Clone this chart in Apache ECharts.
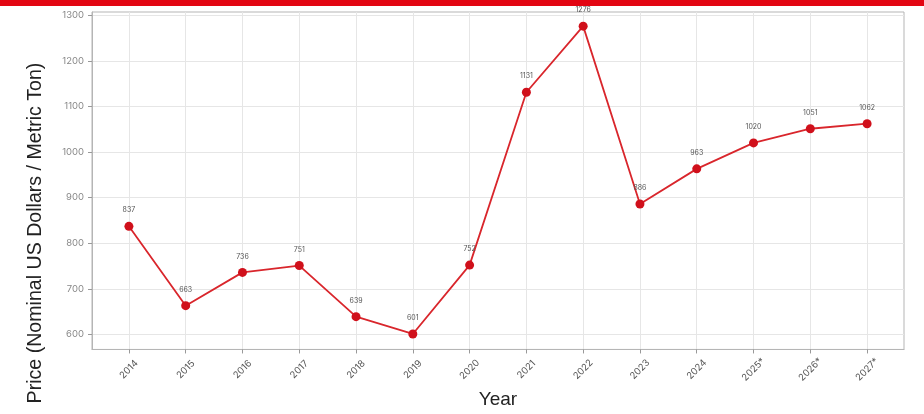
<!DOCTYPE html>
<html><head><meta charset="utf-8">
<script src="https://cdn.jsdelivr.net/npm/echarts@6/dist/echarts.min.js"></script>
<style>html,body{margin:0;padding:0;background:#fff}#c{width:924px;height:414px}</style>
</head><body><div id="c"></div>
<script>
const years = ['2014','2015','2016','2017','2018','2019','2020','2021','2022','2023','2024','2025*','2026*','2027*'];
const prices = [837, 663, 736, 751, 639, 601, 752, 1131, 1276, 886, 963, 1020, 1051, 1062];
const yTicks = [600, 700, 800, 900, 1000, 1100, 1200, 1300];
const xTitle = 'Year';
const yTitle = 'Price (Nominal US Dollars / Metric Ton)';

const xIdx = years.map((_, i) => i);
const chart = echarts.init(document.getElementById('c'), null, {renderer: 'canvas'});
chart.setOption({
  animation: false,
  backgroundColor: '#fff',
  graphic: [
    {type: 'rect', left: 0, top: 0, shape: {width: 924, height: 6}, style: {fill: '#e30613'}},
    {type: 'text', x: 36, y: 233, rotation: Math.PI / 2, style: {text: yTitle, font: '19.6px "Liberation Sans", Arial, sans-serif', fill: '#222', align: 'center', verticalAlign: 'middle'}}
  ],
  grid: {left: 92, right: 20, top: 12, bottom: 60, show: true, borderColor: '#b5b5b5', borderWidth: 1, containLabel: false},
  xAxis: {
    type: 'value', min: -0.65, max: 13.65,
    name: xTitle, nameLocation: 'middle', nameGap: 50,
    nameTextStyle: {fontFamily: '"Liberation Sans", Arial, sans-serif', fontSize: 19, color: '#222', verticalAlign: 'middle'},
    axisLine: {show: true, onZero: false, lineStyle: {color: '#b5b5b5'}},
    axisTick: {show: true, customValues: xIdx, length: 4, lineStyle: {color: '#999'}},
    axisLabel: {customValues: xIdx, rotate: 45, fontSize: 9.5, color: '#555', fontFamily: 'Inter, sans-serif', margin: 20,
      align: 'center', verticalAlign: 'middle',
      formatter: v => years[Math.round(v)]},
    splitLine: {show: true, customValues: xIdx, lineStyle: {color: '#e6e6e6', width: 1}}
  },
  yAxis: {
    type: 'value', min: 567, max: 1307,
    axisLine: {show: true, onZero: false, lineStyle: {color: '#b5b5b5'}},
    axisTick: {show: true, customValues: yTicks, length: 4, lineStyle: {color: '#999'}},
    axisLabel: {customValues: yTicks, fontSize: 9.5, color: '#888', fontFamily: 'Inter, sans-serif', margin: 8,
      formatter: v => String(v)},
    splitLine: {show: true, customValues: yTicks, lineStyle: {color: '#e6e6e6', width: 1}}
  },
  series: [{
    type: 'line',
    data: prices.map((v, i) => [i, v]),
    symbol: 'circle', symbolSize: 9,
    lineStyle: {color: '#d9262c', width: 1.8},
    itemStyle: {color: '#d0101b'},
    label: {show: true, position: 'top', distance: 8, fontSize: 7, color: '#555', fontFamily: 'Inter, sans-serif',
      formatter: p => String(p.data[1])}
  }]
});
</script></body></html>
